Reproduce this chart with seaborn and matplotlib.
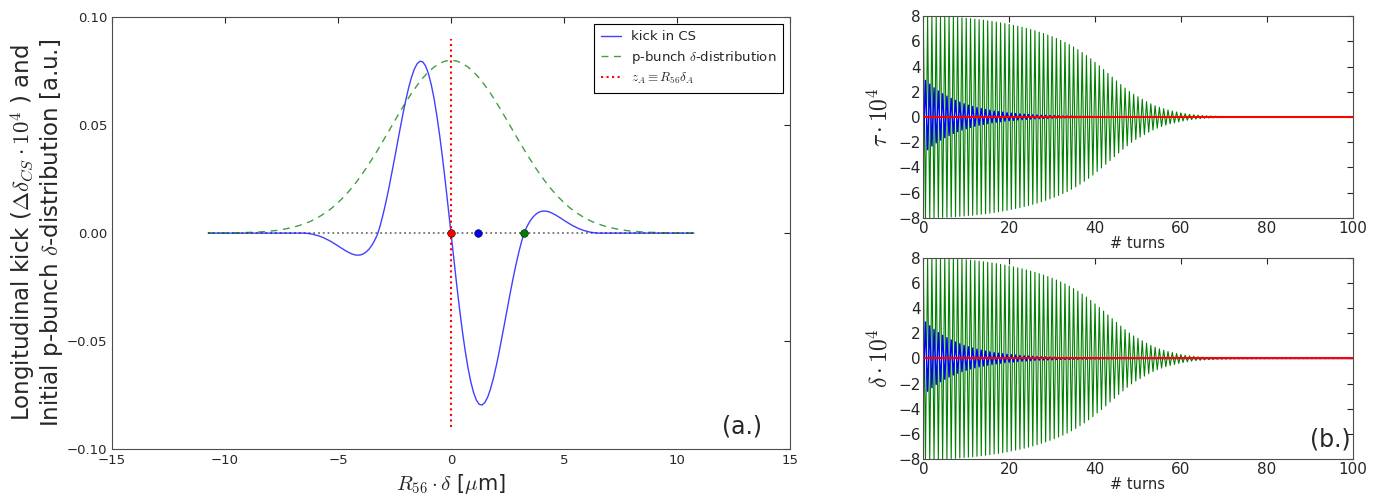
import numpy as np
import pandas as pd
import matplotlib
matplotlib.use("Agg")
import matplotlib.pyplot as plt
import seaborn as sns

# ---- data ----
# left panel: kick in CS vs R56*delta [um], every 0.125 from 0 to 10.75 (odd in x)
kick_half = [0.0, -0.0120, -0.0237, -0.0348, -0.0451, -0.0543, -0.0623, -0.0688,
             -0.0739, -0.0774, -0.0793, -0.0796, -0.0784, -0.0759, -0.0721, -0.0673,
             -0.0616, -0.0553, -0.0485, -0.0415, -0.0344, -0.0275, -0.0208, -0.0146,
             -0.0089, -0.0038, 0.0005, 0.0033, 0.0056, 0.0074, 0.0087, 0.0096,
             0.0101, 0.0102, 0.0101, 0.0097, 0.0091, 0.0084, 0.0076, 0.0068,
             0.0059, 0.0051, 0.0043, 0.0035, 0.0029, 0.0022, 0.0017, 0.0012,
             0.0009, 0.0005, 0.0003, 0.0001, 0.0] + [0.0] * 34
kick_step = 0.125
# p-bunch delta distribution, every 0.25 from 0 to 10.75 (even in x)
gauss_half = [0.0800, 0.0797, 0.0786, 0.0769, 0.0746, 0.0718, 0.0684, 0.0647,
              0.0606, 0.0563, 0.0518, 0.0473, 0.0428, 0.0384, 0.0342, 0.0301,
              0.0263, 0.0228, 0.0196, 0.0167, 0.0141, 0.0118, 0.0098, 0.0081,
              0.0066, 0.0053, 0.0043, 0.0034, 0.0027, 0.0021, 0.0016, 0.0012,
              0.0009, 0.0007, 0.0005, 0.0004, 0.0003, 0.0002, 0.0001, 0.0001,
              0.0, 0.0, 0.0, 0.0]
gauss_step = 0.25
z_A = 0.0
dot_x = [0.0, 1.21, 3.23]
dot_col = ['r', 'b', 'g']

# right panels: envelope of the oscillations per turn (0..100)
green_amp = [8.00, 8.00, 7.99, 7.98, 7.97, 7.96, 7.94, 7.92, 7.89, 7.86,
             7.83, 7.80, 7.76, 7.72, 7.68, 7.63, 7.58, 7.53, 7.47, 7.41,
             7.34, 7.27, 7.20, 7.12, 7.03, 6.94, 6.84, 6.73, 6.62, 6.50,
             6.37, 6.23, 6.08, 5.92, 5.74, 5.55, 5.34, 5.11, 4.87, 4.61,
             4.33, 4.05, 3.76, 3.46, 3.16, 2.86, 2.57, 2.29, 2.02, 1.79,
             1.60, 1.40, 1.21, 1.04, 0.89, 0.76, 0.65, 0.55, 0.47, 0.39,
             0.32, 0.26, 0.21, 0.17, 0.14, 0.11, 0.09, 0.075, 0.06, 0.05,
             0.042, 0.035, 0.03, 0.027, 0.024, 0.022, 0.02, 0.018, 0.017, 0.016,
             0.015, 0.014, 0.014, 0.013, 0.013, 0.012, 0.012, 0.012, 0.011, 0.011,
             0.011, 0.011, 0.010, 0.010, 0.010, 0.010, 0.010, 0.010, 0.010, 0.010,
             0.010]
blue_amp = [2.90, 2.60, 2.31, 2.06, 1.84, 1.65, 1.47, 1.31, 1.17, 1.04,
            0.93, 0.83, 0.74, 0.66, 0.59, 0.53, 0.47, 0.42, 0.38, 0.33,
            0.30, 0.27, 0.24, 0.21, 0.19, 0.17, 0.15, 0.13, 0.12, 0.11,
            0.10, 0.08, 0.07, 0.07, 0.06, 0.05, 0.05, 0.04, 0.04, 0.03,
            0.03, 0.03, 0.02, 0.02, 0.02, 0.02, 0.01, 0.01, 0.01, 0.01,
            0.01] + [0.0] * 50
red_line = [0.0] * 101

# ---- build tables ----
def mirror(vals, step, odd):
    v = np.array(vals)
    x = np.arange(len(v)) * step
    sgn = -1 if odd else 1
    return (np.concatenate([-x[::-1], x[1:]]),
            np.concatenate([sgn * v[::-1], v[1:]]))

xk, kick = mirror(kick_half, kick_step, True)
xg, gauss = mirror(gauss_half, gauss_step, False)
kick_df = pd.DataFrame({'x': xk, 'y': kick})
gauss_df = pd.DataFrame({'x': xg, 'y': gauss})

half_t = np.arange(2 * len(green_amp)) / 2.0
alt = np.where(np.arange(len(half_t)) % 2 == 0, 1, -1)
osc_green = pd.DataFrame({'turn': half_t, 'val': np.repeat(green_amp, 2) * alt})
osc_blue = pd.DataFrame({'turn': half_t, 'val': -np.repeat(blue_amp, 2) * alt})
osc_red = pd.DataFrame({'turn': np.arange(len(red_line)), 'val': red_line})

# ---- style ----
sns.set_style("white", {
    'xtick.direction': 'in', 'ytick.direction': 'in',
    'xtick.top': True, 'ytick.right': True,
    'axes.edgecolor': '0.3', 'axes.linewidth': 1.0,
})
plt.rcParams['font.family'] = ['DejaVu Sans']
plt.rcParams['mathtext.fontset'] = 'cm'
plt.rcParams['xtick.major.size'] = 4
plt.rcParams['ytick.major.size'] = 4

fig = plt.figure(figsize=(13.75, 5.04), dpi=100)
ax = fig.add_axes([0.0815, 0.109, 0.493, 0.857])
ax_t = fig.add_axes([0.6715, 0.568, 0.3122, 0.4])
ax_b = fig.add_axes([0.6715, 0.0887, 0.3122, 0.4])

# left panel
ax.hlines(0, xk[0], xk[-1], colors='0.45', linestyles=':', lw=1.3)
sns.lineplot(data=kick_df, x='x', y='y', ax=ax, color='b', lw=1.0, alpha=0.75,
             estimator=None, sort=False, label='kick in CS')
sns.lineplot(data=gauss_df, x='x', y='y', ax=ax, color='g', lw=1.0, alpha=0.75,
             estimator=None, sort=False, dashes=(5, 4),
             label=r'p-bunch $\delta$-distribution')
ax.vlines(z_A, -0.09, 0.09, colors='r', linestyles=':', lw=1.5,
          label=r'$z_A \equiv R_{56}\delta_A$')
for xd, c in zip(dot_x, dot_col):
    ax.plot(xd, 0, 'o', color=c, ms=5.5, mec='k', mew=0.4, zorder=5)

ax.set_xlim(-15, 15)
ax.set_ylim(-0.1, 0.1)
ax.set_xticks([-15, -10, -5, 0, 5, 10, 15])
ax.set_yticks([-0.10, -0.05, 0.0, 0.05, 0.10])
ax.tick_params(labelsize=9.5)
ax.set_xlabel(r'$R_{56}\cdot\delta$ [$\mu$m]', fontsize=15)
ax.set_ylabel('Longitudinal kick ($\\Delta\\delta_{CS}\\cdot 10^4$ ) and\n'
              'Initial p-bunch $\\delta$-distribution [a.u.]', fontsize=16.5,
              labelpad=1, linespacing=1.0)
leg = ax.legend(loc='upper right', fontsize=9.5, fancybox=False, framealpha=1,
                edgecolor='k', handlelength=1.5, labelspacing=0.4, borderpad=0.5)
leg.get_frame().set_linewidth(0.8)
ax.text(0.93, 0.053, '(a.)', transform=ax.transAxes, fontsize=17,
        ha='center', va='center')

# right panels
for a, lab in [(ax_t, r'$\tau\cdot 10^4$'), (ax_b, r'$\delta\cdot 10^4$')]:
    sns.lineplot(data=osc_green, x='turn', y='val', ax=a, color='g', lw=0.8,
                 estimator=None, sort=False)
    sns.lineplot(data=osc_blue, x='turn', y='val', ax=a, color='b', lw=1.0,
                 estimator=None, sort=False)
    sns.lineplot(data=osc_red, x='turn', y='val', ax=a, color='r', lw=1.5,
                 estimator=None, sort=False)
    a.set_xlim(0, 100)
    a.set_ylim(-8, 8)
    a.set_xticks([0, 20, 40, 60, 80, 100])
    a.set_yticks([-8, -6, -4, -2, 0, 2, 4, 6, 8])
    a.tick_params(labelsize=11, pad=2)
    a.set_xlabel('# turns', fontsize=10.5, labelpad=0)
    a.set_ylabel(lab, fontsize=17)

ax_b.text(0.948, 0.096, '(b.)', transform=ax_b.transAxes, fontsize=17,
          ha='center', va='center')

fig.savefig('out.png', dpi=100)
